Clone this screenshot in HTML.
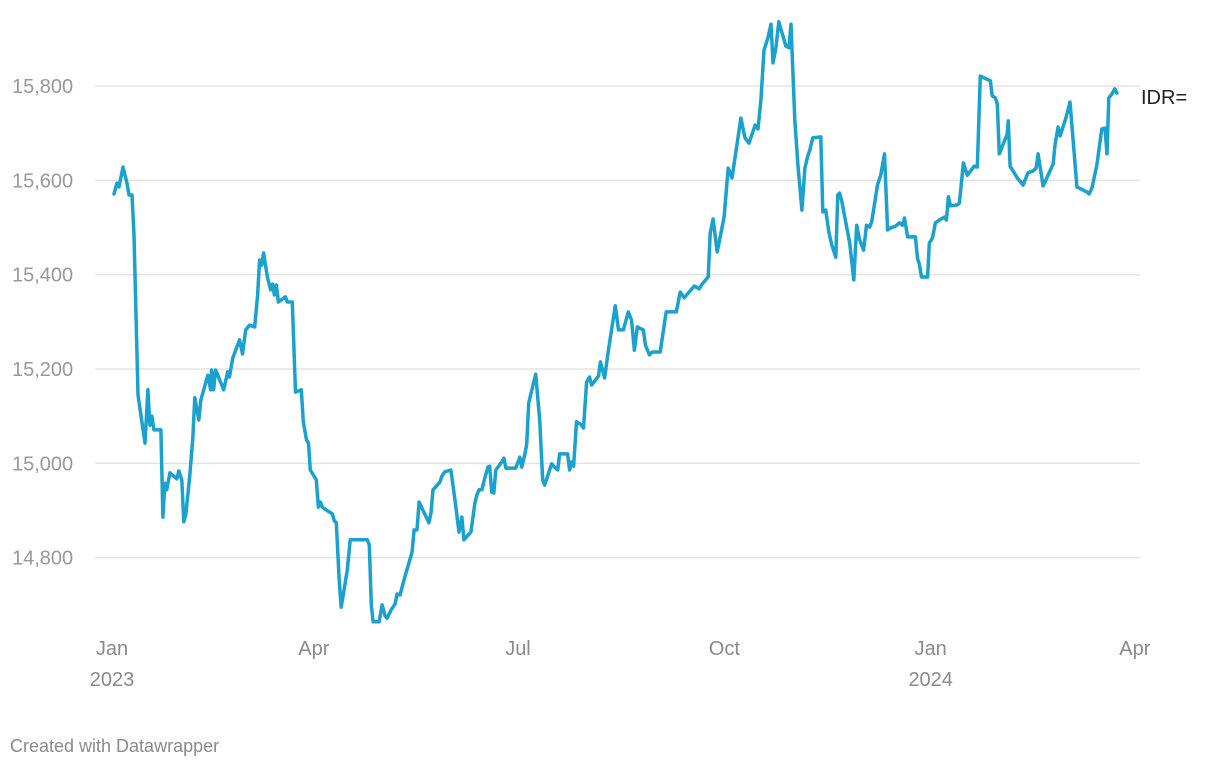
<!DOCTYPE html>
<html><head><meta charset="utf-8"><style>
html,body{margin:0;padding:0;background:#fff;}
svg{display:block;font-family:"Liberation Sans",Roboto,sans-serif;}
</style></head><body>
<svg id="chart" width="1220" height="768" viewBox="0 0 1220 768">
<g id="grid"></g>
<g id="yaxis"></g>
<g id="xaxis"></g>
<g id="series"></g>
<text x="10" y="752" font-size="18" fill="#8a8a8a">Created with Datawrapper</text>
</svg>
<script>
// days since 2023-01-01
const days = [0.9,2.2,3.1,4.9,6.7,7.6,8.9,9.8,11.6,14.7,16.0,16.9,17.8,18.7,21.8,22.7,23.6,24.4,25.8,28.9,29.8,31.1,32.0,32.9,34.7,36.0,36.9,38.7,39.6,42.7,44.0,44.4,45.3,46.2,48.0,49.8,51.6,52.4,53.8,56.9,58.2,59.6,61.3,63.6,64.9,65.8,66.7,67.6,69.3,70.7,71.6,72.4,73.3,74.2,77.3,78.2,80.4,81.8,84.4,85.3,86.7,87.6,88.4,91.1,92.0,92.9,93.8,95.6,98.2,99.1,100.0,101.3,102.2,104.9,106.2,113.8,114.7,115.6,116.4,119.1,120.4,121.8,122.7,124.4,126.2,127.1,128.4,130.2,133.8,134.7,136.0,136.9,139.6,141.3,142.2,143.1,146.2,147.1,148.4,151.1,152.9,154.7,156.0,156.9,158.7,160.0,161.8,162.7,163.6,164.9,166.2,167.6,168.4,169.3,170.2,171.1,173.8,174.7,175.6,180.0,181.8,182.7,184.0,184.9,185.8,188.9,190.7,192.0,192.9,196.0,197.3,198.7,199.6,203.1,204.0,204.9,205.8,207.1,208.9,210.2,211.6,212.9,213.8,216.9,217.8,219.6,221.3,224.4,225.8,228.0,230.2,231.6,232.9,234.2,236.9,237.8,239.6,240.9,244.4,247.1,251.6,253.3,255.1,256.9,259.6,261.8,263.1,265.8,266.7,268.0,269.8,272.9,274.7,276.4,280.4,282.2,284.0,286.7,288.0,289.3,290.7,292.4,293.8,294.7,296.0,297.3,300.4,301.8,302.7,304.4,305.8,307.6,308.9,310.2,311.1,312.4,316.0,316.9,318.2,319.6,320.9,322.7,323.6,324.4,325.3,327.1,328.9,330.7,332.0,333.3,335.1,336.4,337.8,338.7,341.3,342.7,344.4,345.8,347.1,349.3,351.1,352.4,353.3,354.7,358.2,359.1,360.0,360.9,363.6,364.4,365.8,367.1,368.9,371.1,372.0,372.9,373.8,376.9,377.8,379.6,381.3,383.1,384.4,385.8,387.1,391.6,392.4,393.8,394.7,395.6,399.1,399.6,400.4,403.6,406.2,408.4,410.7,412.0,412.9,415.1,416.4,419.6,420.4,421.8,422.7,425.3,427.1,430.2,434.7,435.6,436.9,439.1,441.3,442.7,443.6,444.4,445.8,447.1,448.0];
const values = [15571,15594,15586,15628,15594,15569,15569,15484,15145,15043,15156,15081,15100,15071,15071,14886,14958,14944,14980,14967,14984,14965,14876,14891,14975,15050,15139,15092,15134,15187,15156,15198,15156,15198,15177,15156,15194,15183,15223,15262,15232,15283,15293,15289,15357,15431,15420,15446,15395,15368,15380,15357,15378,15342,15353,15342,15342,15151,15156,15088,15050,15043,14986,14965,14907,14918,14907,14901,14893,14878,14874,14753,14695,14774,14838,14838,14827,14700,14664,14664,14700,14676,14672,14689,14702,14723,14721,14753,14812,14859,14859,14918,14891,14874,14895,14944,14960,14973,14982,14986,14922,14854,14886,14838,14848,14854,14916,14933,14944,14944,14969,14992,14994,14939,14937,14986,15003,15011,14990,14990,15013,14992,15018,15041,15128,15189,15092,14965,14954,14999,14992,14986,15020,15020,14986,15003,14994,15088,15083,15075,15172,15183,15166,15185,15215,15181,15240,15334,15283,15283,15321,15304,15240,15289,15283,15251,15230,15236,15236,15321,15321,15363,15351,15361,15376,15370,15380,15395,15488,15518,15448,15522,15626,15605,15732,15690,15679,15717,15709,15770,15876,15902,15931,15849,15881,15936,15885,15881,15931,15728,15633,15537,15626,15652,15664,15690,15692,15533,15537,15490,15463,15437,15569,15573,15558,15512,15467,15389,15505,15474,15452,15505,15501,15512,15590,15611,15656,15495,15499,15503,15510,15505,15520,15480,15480,15435,15421,15395,15395,15467,15478,15510,15516,15522,15516,15565,15546,15548,15552,15637,15611,15622,15630,15628,15821,15811,15779,15775,15762,15656,15698,15726,15630,15605,15590,15616,15620,15626,15656,15588,15601,15635,15675,15713,15694,15732,15766,15586,15575,15571,15584,15633,15709,15711,15656,15775,15783,15794,15785];
const yTicks = [14800,15000,15200,15400,15600,15800];
const yTickLabels = ["14,800","15,000","15,200","15,400","15,600","15,800"];
const xTickDays = [0,90,181,273,365,456];
const xTickLabels = [["Jan","2023"],["Apr",""],["Jul",""],["Oct",""],["Jan","2024"],["Apr",""]];
const seriesLabel = "IDR=";

const NS="http://www.w3.org/2000/svg";
const xScale = d => 112 + d*2.243;
const yScale = v => 86 + (15800 - v)/2.12;
function mk(tag, attrs, parent){const e=document.createElementNS(NS,tag);for(const k in attrs)e.setAttribute(k,attrs[k]);parent.appendChild(e);return e;}

const grid=document.getElementById('grid'), ya=document.getElementById('yaxis'), xa=document.getElementById('xaxis'), ser=document.getElementById('series');
yTicks.forEach((t,i)=>{
  const y=yScale(t);
  const l=mk('line',{x1:95,x2:1140,y1:y,y2:y,stroke:'#e3e3e3','stroke-width':1.5},grid);
  
  
  const tx=mk('text',{x:12,y:y+7,'font-size':20,fill:'#999'},ya);
  tx.textContent=yTickLabels[i];
  
  
});
xTickDays.forEach((d,i)=>{
  const x=xScale(d);
  const t1=mk('text',{x:x,y:655,'font-size':20,fill:'#8a8a8a','text-anchor':'middle'},xa);
  t1.textContent=xTickLabels[i][0];
  
  
  if(xTickLabels[i][1]){
    const t2=mk('text',{x:x,y:686,'font-size':20,fill:'#8a8a8a','text-anchor':'middle'},xa);
    t2.textContent=xTickLabels[i][1];
    
    
  }
});
const pts=days.map((d,i)=>xScale(d).toFixed(1)+','+yScale(values[i]).toFixed(1)).join(' ');
const pl=mk('polyline',{points:pts,fill:'none',stroke:'#1aa1cd','stroke-width':3.5,'stroke-linejoin':'round','stroke-linecap':'round'},ser);


const lab=mk('text',{x:1141,y:104,'font-size':20,fill:'#222'},ser);
lab.textContent=seriesLabel;


</script>
</body></html>
